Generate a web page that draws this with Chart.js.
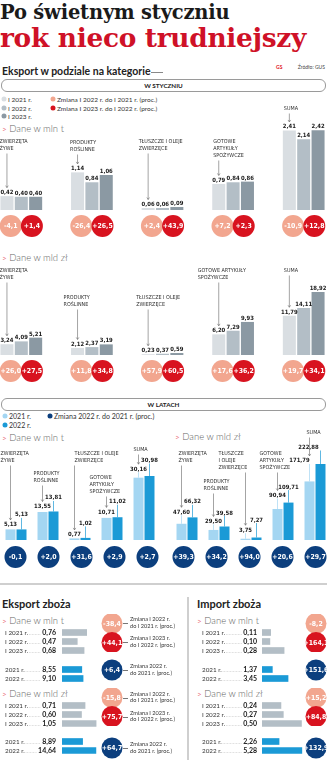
<!DOCTYPE html>
<html lang="pl">
<head>
<meta charset="utf-8">
<title>Eksport w podziale na kategorie</title>
<script src="https://cdn.jsdelivr.net/npm/chart.js@4.4.1/dist/chart.umd.min.js"></script>
<style>
  html, body { margin: 0; padding: 0; }
  body { width: 327px; height: 760px; overflow: hidden; position: relative; background: #fff; font-family: Lato, "Open Sans", sans-serif; color: #333; }
  .n { position: absolute; white-space: nowrap; line-height: 1; transform: translateY(-50%); }
  .kr { position: absolute; width: 5px; height: 5px; border-radius: 50%; transform: translate(-50%, -50%); }
  .ln { position: absolute; background: #cfcfcf; }
  .ramka { position: absolute; left: 1px; width: 323px; height: 11px; border: 1px solid #9a9a9a; border-radius: 6px; font: bold 6.3px Lato; text-align: center; line-height: 11px; color: #222; }
  canvas { position: absolute; }
</style>
</head>
<body>
<script>
// dane - eksport w styczniu
const kategorie = ['ZWIERZĘTA ŻYWE', 'PRODUKTY ROŚLINNE', 'TŁUSZCZE I OLEJE ZWIERZĘCE', 'GOTOWE ARTYKUŁY SPOŻYWCZE', 'SUMA'];
const okresyStyczen = ['I 2021 r.', 'I 2022 r.', 'I 2023 r.'];
const okresyLata = ['2021 r.', '2022 r.'];

const styMlnT21 = [0.42, 1.14, 0.06, 0.79, 2.41];
const styMlnT22 = [0.40, 0.84, 0.06, 0.84, 2.14];
const styMlnT23 = [0.40, 1.06, 0.09, 0.86, 2.42];
const styMlnTZm22 = [-4.1, -26.4, 2.4, 7.2, -10.9];
const styMlnTZm23 = [1.4, 26.5, 43.9, 2.3, 12.8];

const styMldZl21 = [3.24, 2.12, 0.23, 6.20, 11.79];
const styMldZl22 = [4.09, 2.37, 0.37, 7.29, 14.11];
const styMldZl23 = [5.21, 3.19, 0.59, 9.93, 18.92];
const styMldZlZm22 = [26.0, 11.8, 57.9, 17.6, 19.7];
const styMldZlZm23 = [27.5, 34.8, 60.5, 36.2, 34.1];

// w latach
const rokMlnT21 = [5.13, 13.55, 0.77, 10.71, 30.16];
const rokMlnT22 = [5.13, 13.81, 1.02, 11.02, 30.98];
const rokMlnTZm = [-0.1, 2.0, 31.6, 2.9, 2.7];

const rokMldZl21 = [47.60, 29.50, 3.75, 90.94, 171.79];
const rokMldZl22 = [66.32, 39.58, 7.27, 109.71, 222.88];
const rokMldZlZm = [39.3, 34.2, 94.0, 20.6, 29.7];

// zboża
const eksZbStyMlnT = [0.76, 0.47, 0.68];
const eksZbRokMlnT = [8.55, 9.10];
const eksZbZmMlnT = [-38.4, 44.1, 6.4];
const eksZbStyMldZl = [0.71, 0.60, 1.05];
const eksZbRokMldZl = [8.89, 14.64];
const eksZbZmMldZl = [-15.8, 75.7, 64.7];

const impZbStyMlnT = [0.11, 0.10, 0.28];
const impZbRokMlnT = [1.37, 3.45];
const impZbZmMlnT = [-8.2, 164.1, 151.6];
const impZbStyMldZl = [0.24, 0.27, 0.50];
const impZbRokMldZl = [2.26, 5.28];
const impZbZmMldZl = [15.2, 84.8, 132.9];

// kolory
const SZ1 = '#d9dee2', SZ2 = '#b3bec6', SZ3 = '#8b99a3';
const NB1 = '#a4d6f2', NB2 = '#1b9ad6';
const LOSOS = '#f2a68f', CZERW = '#d8131f', GRANAT = '#0c3f7e';
const N = '"Liberation Sans Narrow", "DejaVu Sans Condensed", sans-serif';

Chart.defaults.animation = false;
Chart.defaults.plugins.legend.display = false;
Chart.defaults.plugins.tooltip.enabled = false;
Chart.defaults.font.family = 'Lato, sans-serif';

const fmt = (v, d) => v.toFixed(d).replace('.', ',');
const fmtZm = v => (v > 0 ? '+' : '') + fmt(v, 1);

function plotno(x, y, w, h) {
  const c = document.createElement('canvas');
  c.width = w; c.height = h;
  c.style.left = x + 'px'; c.style.top = y + 'px';
  document.body.appendChild(c);
  return c;
}

function napis(x, y, t, styl) {
  const d = document.createElement('div');
  d.className = 'n';
  d.style.cssText = 'left:' + x + 'px;top:' + y + 'px;' + (styl || '');
  d.innerHTML = t;
  document.body.appendChild(d);
  return d;
}

function linia(x, y, w, h, kolor) {
  const d = document.createElement('div');
  d.className = 'ln';
  d.style.cssText = 'left:' + x + 'px;top:' + y + 'px;width:' + w + 'px;height:' + h + 'px;' + (kolor ? 'background:' + kolor : '');
  document.body.appendChild(d);
}

function kropka(x, y, kolor, t, rozm) {
  const d = document.createElement('div');
  d.className = 'kr';
  d.style.cssText = 'left:' + x + 'px;top:' + y + 'px;background:' + kolor;
  document.body.appendChild(d);
  napis(x + 4, y, t, 'font:' + (rozm || 6.5) + 'px Lato;color:#333');
}

function naglowek(x, y, t) {
  napis(x, y, '<span style="color:#e0131e;font-size:8px">&gt;</span> ' + t, 'font:300 9.5px Lato;color:#666');
}

function ramka(y, t) {
  const d = document.createElement('div');
  d.className = 'ramka';
  d.style.top = y + 'px';
  d.textContent = t;
  document.body.appendChild(d);
}

// podpisy słupków, kategorie i strzałki
function opisSlupkow(opisy, podn, kolory, przes) {
  return {
    id: 'opisSlupkow',
    afterDatasetsDraw(ch) {
      const g = ch.ctx;
      g.save();
      g.textAlign = 'center';
      g.textBaseline = 'alphabetic';
      g.font = 'bold 5.9px ' + N;
      ch.data.datasets.forEach((ds, j) => {
        ch.getDatasetMeta(j).data.forEach((el, i) => {
          const r = podn ? podn[j][i] : 2;
          const sx = przes ? przes[j][i] : 0;
          if (r > 6) {
            g.strokeStyle = kolory[j]; g.lineWidth = 0.7;
            g.beginPath(); g.moveTo(el.x, el.y - r + 1.5); g.lineTo(el.x, el.y); g.stroke();
          }
          g.fillStyle = '#1a1a1a';
          g.fillText(fmt(ds.data[i], 2), el.x + sx, el.y - r);
        });
      });
      const m0 = ch.getDatasetMeta(0).data;
      g.font = '5.4px ' + N;
      g.textAlign = 'left';
      g.textBaseline = 'middle';
      g.strokeStyle = '#666'; g.lineWidth = 0.6;
      opisy.forEach((o, i) => {
        const el = m0[i];
        g.fillStyle = '#333';
        o.linie.forEach((t, k) => g.fillText(t, el.x + o.dx, o.dy + k * 7));
        const y0 = o.dy + (o.linie.length - 1) * 7 + 4.5;
        const y1 = el.y - (podn ? podn[0][i] : 2) - 6.5;
        if (y1 - y0 > 3) {
          g.beginPath(); g.moveTo(el.x, y0); g.lineTo(el.x, y1);
          g.moveTo(el.x - 1.3, y1 - 2); g.lineTo(el.x, y1); g.lineTo(el.x + 1.3, y1 - 2);
          g.stroke();
        }
      });
      g.restore();
    }
  };
}

function slupki(x, y, w, h, serie, kolory, max, cp, bp, opisy, podn, przes) {
  const c = plotno(x, y, w, h);
  return new Chart(c, {
    type: 'bar',
    data: {
      labels: kategorie,
      datasets: serie.map((d, j) => ({ data: d, backgroundColor: kolory[j], borderWidth: 0, categoryPercentage: cp, barPercentage: bp }))
    },
    options: {
      responsive: false,
      layout: { padding: 0 },
      scales: { x: { display: false }, y: { display: false, min: 0, max: max } }
    },
    plugins: [opisSlupkow(opisy, podn, kolory, przes)]
  });
}

const napisyWKolkach = {
  id: 'napisyWKolkach',
  afterDatasetsDraw(ch) {
    const g = ch.ctx;
    g.save();
    g.font = 'bold 6.9px ' + N;
    g.fillStyle = '#fff';
    g.textAlign = 'center';
    g.textBaseline = 'middle';
    ch.data.datasets.forEach((ds, j) => {
      ch.getDatasetMeta(j).data.forEach((el, i) => g.fillText(fmtZm(ds.wartosci[i]), el.x, el.y + 0.5));
    });
    g.restore();
  }
};

function kolkaRzad(x, y, w, h, serie, r) {
  const n = serie[0].dane.length;
  const c = plotno(x, y, w, h);
  return new Chart(c, {
    type: 'scatter',
    data: {
      datasets: serie.map((s, j) => ({
        data: s.dane.map((v, i) => ({ x: i + s.dx, y: 0 })),
        wartosci: s.dane, backgroundColor: s.kolor, borderWidth: 0, clip: false,
        pointRadius: r, pointHoverRadius: r, order: -j
      }))
    },
    options: {
      responsive: false,
      layout: { autoPadding: false, padding: 0 },
      scales: { x: { display: false, min: -0.5, max: n - 0.5 }, y: { display: false, min: -1, max: 1 } }
    },
    plugins: [napisyWKolkach]
  });
}

function kolkaKolumna(x, y, w, h, dane, kolory, r) {
  const c = plotno(x, y, w, h);
  return new Chart(c, {
    type: 'scatter',
    data: {
      datasets: [{
        data: dane.map((v, i) => ({ x: 0, y: i })),
        wartosci: dane, backgroundColor: kolory, borderWidth: 0, clip: false,
        pointRadius: r, pointHoverRadius: r
      }]
    },
    options: {
      responsive: false,
      layout: { autoPadding: false, padding: 0 },
      scales: { x: { display: false, min: -1, max: 1 }, y: { display: false, min: -0.5, max: dane.length - 0.5, reverse: true } }
    },
    plugins: [napisyWKolkach]
  });
}

function poziome(x, y, w, pad, dane, etykiety, kolor, max, wartX) {
  const c = plotno(x, y, w, dane.length * 9);
  return new Chart(c, {
    type: 'bar',
    data: { labels: etykiety, datasets: [{ data: dane, backgroundColor: kolor, borderWidth: 0, barThickness: 6 }] },
    options: {
      indexAxis: 'y',
      responsive: false,
      layout: { padding: { left: pad } },
      scales: { x: { display: false, min: 0, max: max }, y: { display: false } }
    },
    plugins: [{
      id: 'wiersze',
      afterDatasetsDraw(ch) {
        const g = ch.ctx;
        g.save();
        g.textBaseline = 'middle';
        ch.getDatasetMeta(0).data.forEach((el, i) => {
          g.font = '6.3px Lato';
          g.fillStyle = '#333';
          g.textAlign = 'left';
          g.fillText(etykiety[i], 5, el.y);
          const k1 = 5 + g.measureText(etykiety[i]).width + 1;
          g.font = 'bold 7px Lato';
          g.fillStyle = '#1a1a1a';
          g.textAlign = 'right';
          const tw = fmt(dane[i], 2);
          g.fillText(tw, wartX, el.y);
          const k2 = wartX - g.measureText(tw).width - 1.5;
          g.strokeStyle = '#999'; g.lineWidth = 0.5; g.setLineDash([0.6, 0.9]);
          g.beginPath(); g.moveTo(k1, el.y + 2); g.lineTo(k2, el.y + 2); g.stroke();
          g.setLineDash([]);
        });
        g.restore();
      }
    }]
  });
}

// ---- nagłówki ----
napis(0, 11.5, 'Po świetnym styczniu', 'font:bold 19.5px "DejaVu Serif";color:#1a1a1a;letter-spacing:-0.2px');
napis(0, 36.5, 'rok nieco trudniejszy', 'font:bold 26.4px "DejaVu Serif";color:#cf1127;letter-spacing:-0.3px');

napis(2, 71, 'Eksport w podziale na kategorie', 'font:bold 10.5px Lato;color:#222');
linia(151, 72, 12, 1, '#888');
napis(276, 67, 'GS', 'font:bold 5px Lato;color:#e0131e');
napis(325, 67, 'Źródło: GUS', 'font:5px Lato;color:#444;transform:translate(-100%,-50%)');

ramka(79, 'W STYCZNIU');
kropka(4, 99, SZ1, okresyStyczen[0]);
kropka(4, 108, SZ2, okresyStyczen[1]);
kropka(4, 116, SZ3, okresyStyczen[2]);
kropka(53, 99, LOSOS, 'Zmiana ' + okresyStyczen[1] + ' do ' + okresyStyczen[0] + ' (proc.)');
kropka(53, 108, CZERW, 'Zmiana ' + okresyStyczen[2] + ' do ' + okresyStyczen[1] + ' (proc.)');

naglowek(2, 128, 'Dane w mln t');
naglowek(2, 257, 'Dane w mld zł');

// ---- w styczniu ----
const opisyStyMlnT = [
  { linie: ['ZWIERZĘTA', 'ŻYWE'], dx: -7.5, dy: 42 },
  { linie: ['PRODUKTY', 'ROŚLINNE'], dx: -7.5, dy: 43 },
  { linie: ['TŁUSZCZE I OLEJE', 'ZWIERZĘCE'], dx: -9.5, dy: 42 },
  { linie: ['GOTOWE', 'ARTYKUŁY', 'SPOŻYWCZE'], dx: -5.5, dy: 42 },
  { linie: ['SUMA'], dx: -5.5, dy: 9 }
];
const opisyStyMldZl = [
  { linie: ['ZWIERZĘTA', 'ŻYWE'], dx: -7.5, dy: 11 },
  { linie: ['PRODUKTY', 'ROŚLINNE'], dx: -14, dy: 38 },
  { linie: ['TŁUSZCZE I OLEJE', 'ZWIERZĘCE'], dx: -12, dy: 38 },
  { linie: ['GOTOWE ARTYKUŁY', 'SPOŻYWCZE'], dx: -21, dy: 11 },
  { linie: ['SUMA'], dx: -5.5, dy: 11 }
];

slupki(-14, 100, 353, 110, [styMlnT21, styMlnT22, styMlnT23], [SZ1, SZ2, SZ3], 3.333, 0.61, 0.907, opisyStyMlnT, null);
kolkaRzad(-14, 214, 353, 24, [
  { dane: styMlnTZm22, kolor: LOSOS, dx: -0.15 },
  { dane: styMlnTZm23, kolor: CZERW, dx: 0.15 }
], 11);

slupki(-14, 260, 353, 95, [styMldZl21, styMldZl22, styMldZl23], [SZ1, SZ2, SZ3], 28.53, 0.61, 0.907, opisyStyMldZl, null);
kolkaRzad(-14, 359, 353, 24, [
  { dane: styMldZlZm22, kolor: LOSOS, dx: -0.15 },
  { dane: styMldZlZm23, kolor: CZERW, dx: 0.15 }
], 11);

// ---- w latach ----
ramka(398, 'W LATACH');
kropka(5, 416, NB1, okresyLata[0], 7);
kropka(5, 425, NB2, okresyLata[1], 7);
kropka(50, 416, GRANAT, 'Zmiana ' + okresyLata[1] + ' do ' + okresyLata[0] + ' (proc.)', 7);
naglowek(2, 437, 'Dane w mln t');
naglowek(175, 436, 'Dane w mld zł');

const opisyRokMlnT = [
  { linie: ['ZWIERZĘTA', 'ŻYWE'], dx: -10, dy: 14 },
  { linie: ['PRODUKTY', 'ROŚLINNE'], dx: -9, dy: 34 },
  { linie: ['TŁUSZCZE I OLEJE', 'ZWIERZĘCE'], dx: 0, dy: 14 },
  { linie: ['GOTOWE', 'ARTYKUŁY', 'SPOŻYWCZE'], dx: -17, dy: 38 },
  { linie: ['SUMA'], dx: -5, dy: 10 }
];
const podnRokMlnT = [[3, 4, 2, 4, 7], [13, 12, 13, 14, 14]];
const opisyRokMldZl = [
  { linie: ['ZWIERZĘTA', 'ŻYWE'], dx: -3, dy: 29 },
  { linie: ['PRODUKTY', 'ROŚLINNE'], dx: -10, dy: 57 },
  { linie: ['TŁUSZCZE', 'I OLEJE', 'ZWIERZĘCE'], dx: -27, dy: 29 },
  { linie: ['GOTOWE', 'ARTYKUŁY', 'SPOŻYWCZE'], dx: -18, dy: 29 },
  { linie: ['SUMA'], dx: -3, dy: 8 }
];
const podnRokMldZl = [[10, 7, 7, 12, 19], [14, 12, 16, 14, 15]];
const przesRokMldZl = [[0, 0, 0, 0, -10], [0, 0, 0, 0, -12]];

slupki(0, 440, 160, 100, [rokMlnT21, rokMlnT22], [NB1, NB2], 48.4, 0.6875, 0.909, opisyRokMlnT, podnRokMlnT);
kolkaRzad(-1.5, 546, 165, 22, [{ dane: rokMlnTZm, kolor: GRANAT, dx: 0 }], 11);
slupki(171, 425, 160, 115, [rokMldZl21, rokMldZl22], [NB1, NB2], 337.2, 0.6875, 0.909, opisyRokMldZl, podnRokMldZl, przesRokMldZl);
kolkaRzad(167, 546, 165, 22, [{ dane: rokMldZlZm, kolor: GRANAT, dx: 0 }], 11);

// ---- zboża ----
linia(0, 583, 327, 1.5);
linia(187, 597, 1.5, 163);
napis(2, 603, 'Eksport zboża', 'font:bold 11px Lato;color:#222');
napis(197, 603, 'Import zboża', 'font:bold 11px Lato;color:#222');
naglowek(2, 620, 'Dane w mln t');
naglowek(197, 620, 'Dane w mln t');
naglowek(2, 693, 'Dane w mld zł');
naglowek(197, 693, 'Dane w mld zł');

poziome(0, 627.5, 125, 62, eksZbStyMlnT, okresyStyczen, SZ2, 1.94, 56);
poziome(0, 664.5, 125, 62, eksZbRokMlnT, okresyLata, NB2, 27.2, 56);
poziome(0, 700.5, 125, 62, eksZbStyMldZl, okresyStyczen, SZ2, 1.94, 56);
poziome(0, 737, 125, 62, eksZbRokMldZl, okresyLata, NB2, 27.2, 56);
poziome(197, 627.5, 125, 65, impZbStyMlnT, okresyStyczen, SZ2, 0.76, 60);
poziome(197, 664.5, 125, 65, impZbRokMlnT, okresyLata, NB2, 7.95, 60);
poziome(197, 700.5, 125, 65, impZbStyMldZl, okresyStyczen, SZ2, 0.76, 60);
poziome(197, 737, 125, 65, impZbRokMldZl, okresyLata, NB2, 7.95, 60);

kolkaKolumna(101, 613.5, 22, 38, eksZbZmMlnT.slice(0, 2), [LOSOS, CZERW], 10.5);
kolkaKolumna(101, 659, 22, 22, eksZbZmMlnT.slice(2), [GRANAT], 10.5);
kolkaKolumna(101, 687.5, 22, 38, eksZbZmMldZl.slice(0, 2), [LOSOS, CZERW], 10.5);
kolkaKolumna(101, 737, 22, 22, eksZbZmMldZl.slice(2), [GRANAT], 10.5);
kolkaKolumna(305, 613.5, 22, 38, impZbZmMlnT.slice(0, 2), [LOSOS, CZERW], 10.5);
kolkaKolumna(305, 659, 22, 22, impZbZmMlnT.slice(2), [GRANAT], 10.5);
kolkaKolumna(305, 687.5, 22, 38, impZbZmMldZl.slice(0, 2), [LOSOS, CZERW], 10.5);
kolkaKolumna(305, 737, 22, 22, impZbZmMldZl.slice(2), [GRANAT], 10.5);

// opisy kółek
const zmTeksty = [
  'Zmiana ' + okresyStyczen[1] + '<br>do ' + okresyStyczen[0] + ' (proc.)',
  'Zmiana ' + okresyStyczen[2] + '<br>do ' + okresyStyczen[1] + ' (proc.)',
  'Zmiana ' + okresyLata[1] + '<br>do ' + okresyLata[0] + ' (proc.)'
];
[623, 642, 670, 697.5, 716.5, 748].forEach((y, k) => {
  linia(123, y, 5, 0.7, '#777');
  napis(130, y, zmTeksty[k % 3], 'font:5.6px Lato;line-height:6.6px;color:#333');
});
</script>
</body>
</html>
